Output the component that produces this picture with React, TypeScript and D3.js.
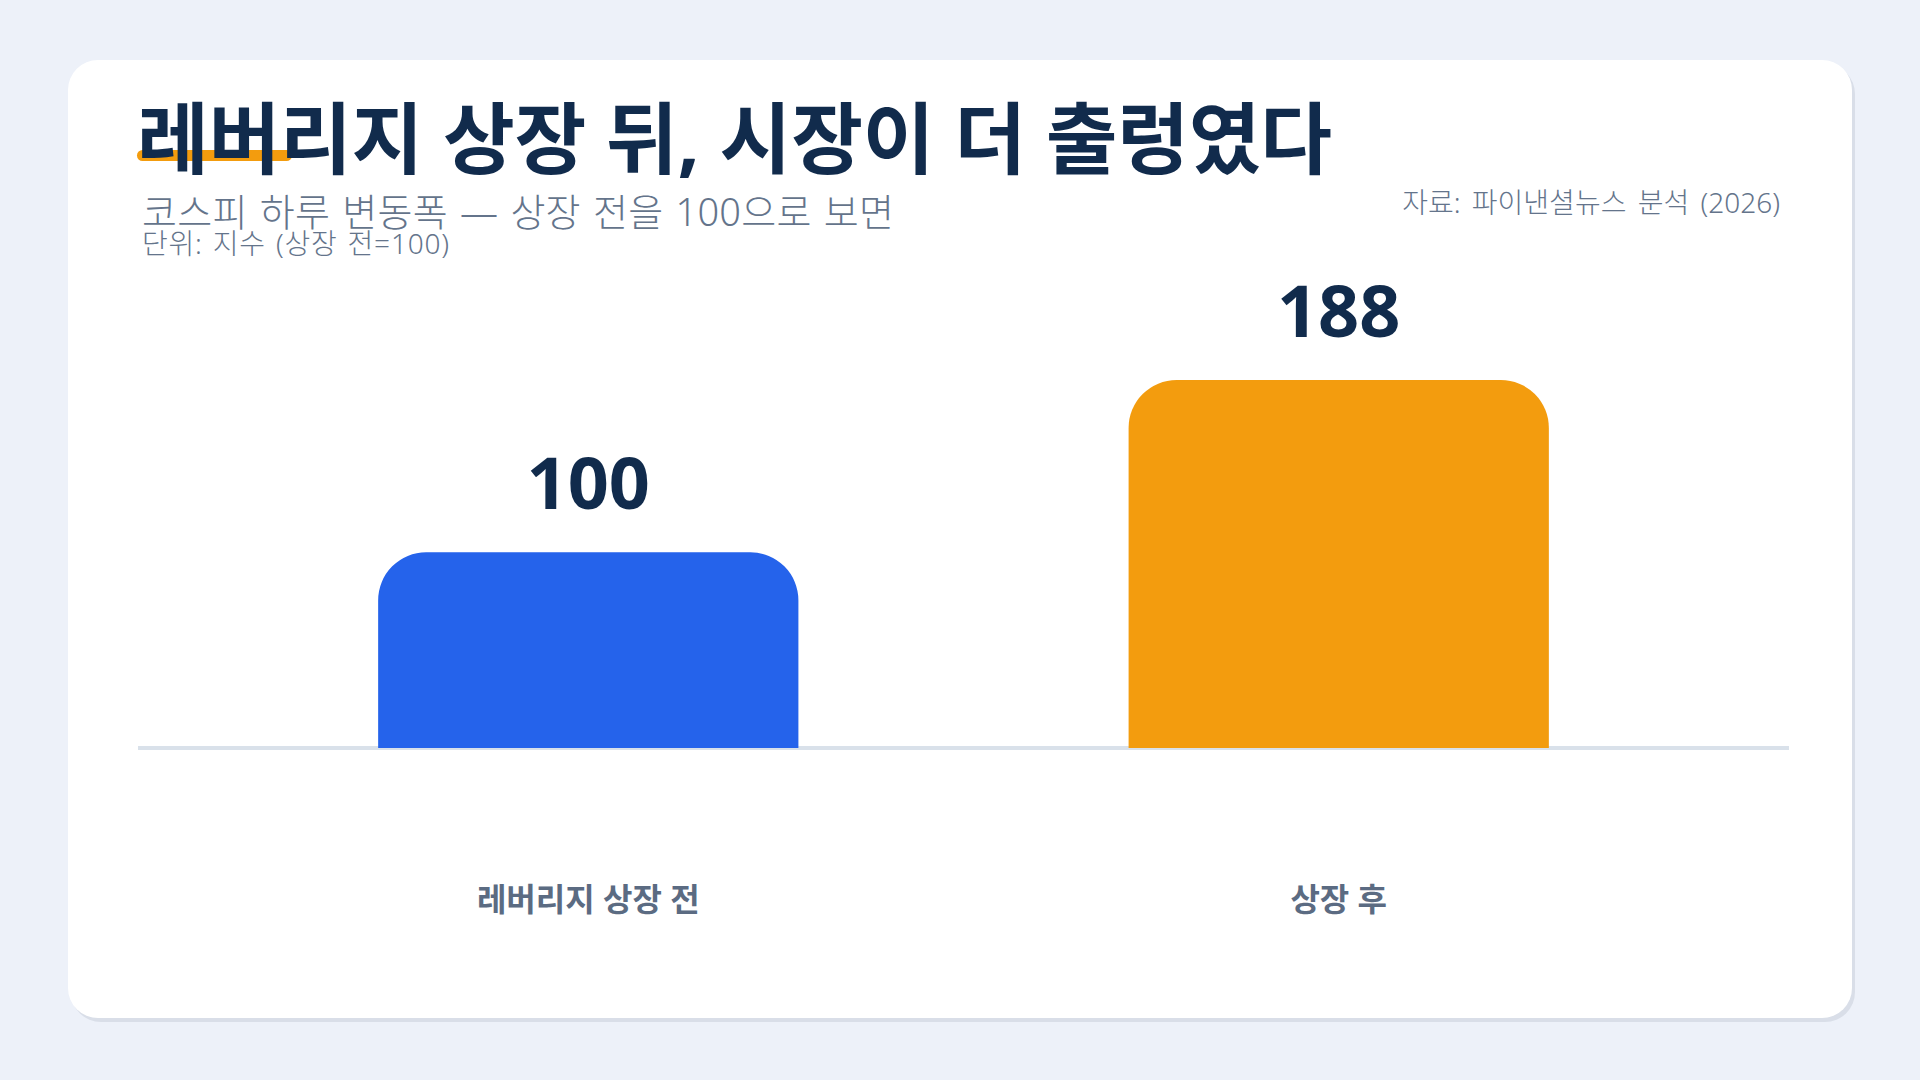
import React from "react";
import * as d3 from "d3";

const categories = ["레버리지 상장 전", "상장 후"];
const values = [100, 188];
const barColors = ["#2563eb", "#f39c0e"];
const titleText = "레버리지 상장 뒤, 시장이 더 출렁였다";
const subtitleText = "코스피 하루 변동폭 — 상장 전을 100으로 보면";
const unitText = "단위: 지수 (상장 전=100)";
const sourceText = "자료: 파이낸셜뉴스 분석 (2026)";

const W = 1920;
const H = 1080;
const FONT = "'Noto Sans', 'Noto Sans CJK KR', sans-serif";

function roundedTopBar(x: number, y: number, w: number, h: number, r: number) {
  const rr = Math.min(r, w / 2, h);
  const p = d3.path();
  p.moveTo(x, y + h);
  p.lineTo(x, y + rr);
  p.arcTo(x, y, x + rr, y, rr);
  p.lineTo(x + w - rr, y);
  p.arcTo(x + w, y, x + w, y + rr, rr);
  p.lineTo(x + w, y + h);
  p.closePath();
  return p.toString();
}

export default function App() {
  const plotLeft = 138;
  const plotRight = 1789;
  const baseY = 748;
  const x = d3
    .scaleBand<string>()
    .domain(categories)
    .range([plotLeft, plotRight])
    .paddingInner(0.44)
    .paddingOuter(0.32);
  const y = d3.scaleLinear().domain([0, 235]).range([baseY, baseY - 235 * 1.9575]);

  return (
    <svg
      width={W}
      height={H}
      style={{ position: "absolute", left: 0, top: 0, display: "block" }}
      fontFamily={FONT}
    >
      <rect x={0} y={0} width={W} height={H} fill="#edf1f9" />
      {/* card shadow */}
      <rect x={71} y={64} width={1784} height={958} rx={30} fill="#d9dee8" />
      <rect x={68} y={60} width={1784} height={958} rx={30} fill="#ffffff" />

      {/* title highlight */}
      <rect x={137} y={150} width={155} height={11} rx={5.5} fill="#f39c0e" />
      <text x={137} y={168} fontSize={78} fontWeight={700} fill="#112b4c" textLength={1195} lengthAdjust="spacing">
        {titleText}
      </text>
      <text x={142} y={226} fontSize={38} fontWeight={300} fill="#64748b" wordSpacing={2} textLength={752} lengthAdjust="spacing">
        {subtitleText}
      </text>
      <text x={142} y={254} fontSize={28} fontWeight={300} fill="#64748b" wordSpacing={2} textLength={307} lengthAdjust="spacing">
        {unitText}
      </text>
      <text x={1780} y={213} fontSize={28} fontWeight={300} fill="#64748b" textAnchor="end" wordSpacing={4}>
        {sourceText}
      </text>

      {/* baseline */}
      <line x1={plotLeft} x2={plotRight} y1={baseY} y2={baseY} stroke="#d9e1ea" strokeWidth={4} />

      {categories.map((c, i) => {
        const bx = x(c)!;
        const bw = x.bandwidth();
        const top = y(values[i]);
        return (
          <g key={c}>
            <path d={roundedTopBar(bx, top, bw, baseY - top, 48)} fill={barColors[i]} />
            <text
              x={bx + bw / 2}
              y={top - 43}
              fontSize={72}
              fontWeight={700}
              fill="#112b4c"
              textAnchor="middle"
            >
              {values[i]}
            </text>
            <text
              x={bx + bw / 2}
              y={911}
              fontSize={32}
              fontWeight={700}
              fill="#5b6b82"
              textAnchor="middle"
            >
              {c}
            </text>
          </g>
        );
      })}
    </svg>
  );
}
